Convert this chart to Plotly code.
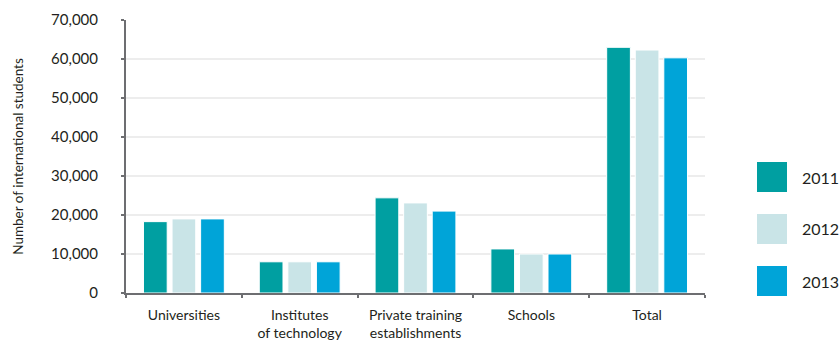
import plotly.graph_objects as go

# Data: international students by sector and year
categories = ["Universities", "Institutes<br>of technology", "Private training<br>establishments", "Schools", "Total"]
years = ["2011", "2012", "2013"]
students_2011 = [18300, 8000, 24400, 11300, 63000]
students_2012 = [19000, 8000, 23100, 10000, 62300]
students_2013 = [19000, 8000, 21000, 10000, 60300]
y_ticks = [0, 10000, 20000, 30000, 40000, 50000, 60000, 70000]
y_tick_labels = ["0", "10,000", "20,000", "30,000", "40,000", "50,000", "60,000", "70,000"]

colors = ["#009FA1", "#C9E4E7", "#00A4D8"]
series = [students_2011, students_2012, students_2013]

FONT = "Lato"
TEXT = "#231F20"
AXIS = "#6D6E71"

fig = go.Figure()
for year, vals, col in zip(years, series, colors):
    fig.add_trace(go.Bar(
        x=categories, y=vals, name=year,
        marker=dict(color=col, line=dict(color="white", width=1)),
        showlegend=False,
    ))

W, H = 840, 344
ml, mr, mt, mb = 126, 135, 20, 51
pw = W - ml - mr
ph = H - mt - mb

fig.update_layout(
    width=W, height=H,
    margin=dict(l=ml, r=mr, t=mt, b=mb),
    paper_bgcolor="white", plot_bgcolor="white",
    barmode="group", bargap=0.26, bargroupgap=0.17,
    font=dict(family=FONT, color=TEXT),
)
fig.update_xaxes(
    automargin=False,
    showline=True, linecolor=AXIS, linewidth=2,
    ticks="outside", tickson="boundaries", ticklen=3, tickcolor=AXIS, tickwidth=2,
    ticklabelstandoff=8,
    tickfont=dict(size=14, color=TEXT),
    showgrid=False,
)
fig.update_yaxes(
    automargin=False,
    range=[0, 70000], tickvals=y_ticks, ticktext=y_tick_labels,
    showline=True, linecolor=AXIS, linewidth=2,
    ticks="outside", ticklen=3, tickcolor=AXIS, tickwidth=2,
    ticklabelstandoff=20,
    tickfont=dict(size=15, color=TEXT),
    showgrid=True, gridcolor="#EDEDED", gridwidth=2,
    zeroline=False,
    title=dict(text="Number of international students", font=dict(size=13.5, color=TEXT), standoff=24),
)

# Legend: large colour swatches with year labels to the right of the plot
sw = 30
x0 = (757 - ml) / pw
x1 = (757 + sw - ml) / pw
for i, (year, col) in enumerate(zip(years, colors)):
    cy = 177 + i * 52
    y_top = 1 - (cy - sw / 2 - mt) / ph
    y_bot = 1 - (cy + sw / 2 - mt) / ph
    fig.add_shape(type="rect", xref="paper", yref="paper",
                  x0=x0, x1=x1, y0=y_bot, y1=y_top,
                  fillcolor=col, line=dict(width=0))
    fig.add_annotation(xref="paper", yref="paper",
                       x=(800 - ml) / pw, y=1 - (cy - mt) / ph,
                       text=year, showarrow=False, xanchor="left", yanchor="middle",
                       font=dict(size=16, color=TEXT, family=FONT))

fig.write_html("out.html")
